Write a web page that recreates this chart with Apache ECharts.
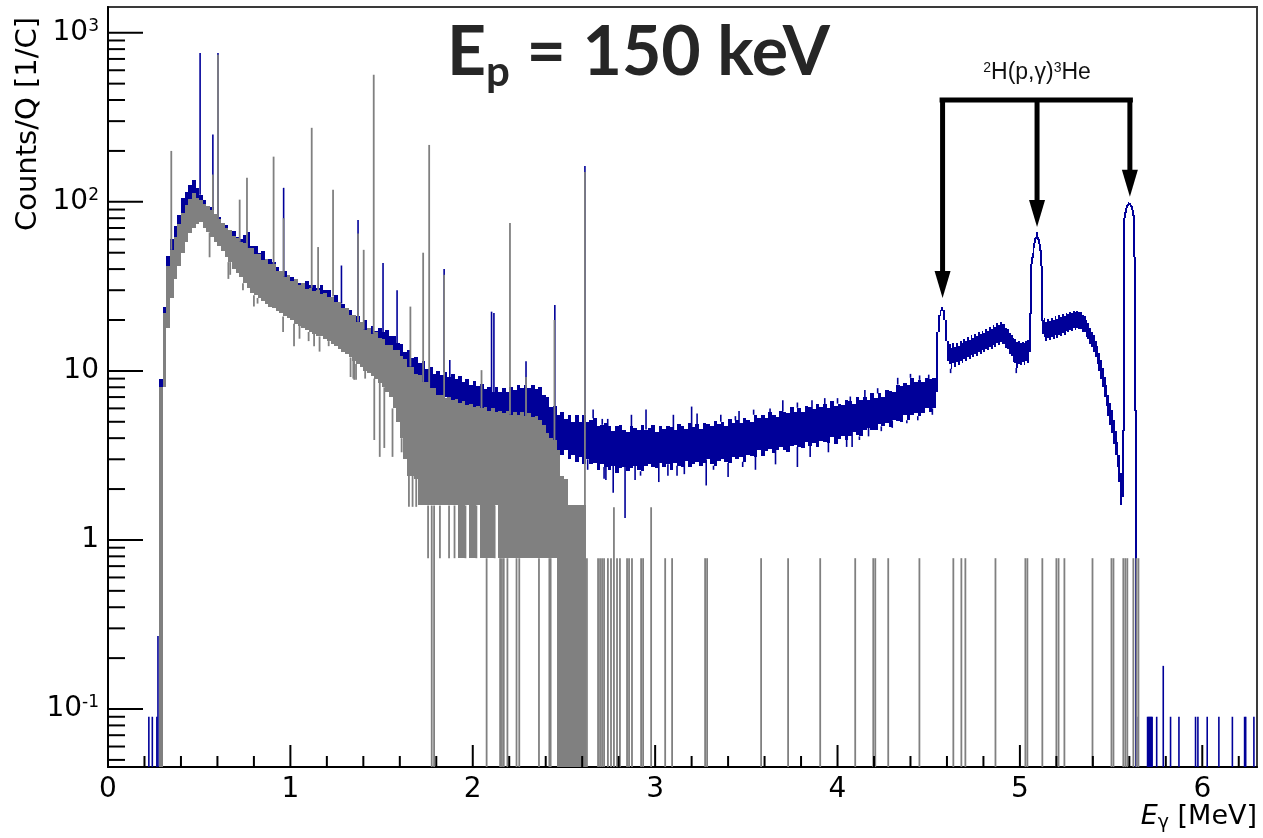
<!DOCTYPE html>
<html><head><meta charset="utf-8">
<script src="https://cdn.jsdelivr.net/npm/echarts@6.0.0/dist/echarts.min.js"></script>
<style>html,body{margin:0;padding:0;background:#fff}#c{width:1263px;height:838px}</style>
</head><body><div id="c"></div>
<script>
// ---------------- data ----------------
// Blue spectrum (beam on), band given as min/max per bin
const blueA_start = 0.28, blueA_w = 0.02;
const blueA_hi = [9,24,48,60,72,84,106,114,126,134, 120,110,102,94,93,84,81,74,73,67, 67,62,60,64,66,55,55,50,51,46, 46,44,41,39,39,35,36,34,33,33,
 34,32,32,31,32,30,30,27.5,28,25, 25,23,23,21,21,19.5,20,18,18.5,17.2, 18,17,17.5,16,16,14.6,14.4,12.9,13.2,11.9, 12.1,11.1,11.5,10.3,10.5,9.6,10,9.5,9.8,9.2,
 9.6,9,9.3,8.6,8.9,8.3,8.7,8.1,8.4,7.8, 8,7.5,8,7.5,7.9,7.5,8,7.7,8.2,7.9, 8.3,7.9,8.3,7.8,8,7.2,7,6.1,6.2,5.5, 5.7,5.2,5.5,5,5.5,5,
 5.5,5.0,5.15,5.25,4.75,4.8,4.95,4.7,4.4,4.7, 4.8,4.5,4.35,4.7,4.6,4.45,4.8,4.5,4.6,4.8, 4.35,4.7,4.55,4.75,4.65,4.45,4.85,4.7,4.55,4.95,
 4.65,4.85,4.55,4.95,4.85,4.7,5.05,4.85,5.0,4.75, 5.2,4.9,5.1,4.9,5.25,5.15,5.0,5.5,5.25,5.45, 5.25,5.7,5.5,5.35,5.8,5.75,5.6,6.1,5.75,6.05,
 5.75,6.2,6.1,5.95,6.4,6.15,6.35,6.0,6.6,6.2, 6.4,6.25,6.7,6.6,6.4,7.0,6.75,7.0,6.7,7.35, 6.9,7.35,7.05,7.7,7.65,7.55,8.3,8.1,8.5,8.2,
 9.1,8.55,8.85,8.55,9.1,8.9,9.1];
const blueA_lo = [0.3,9,22,30,42,50,60,72,80,86, 84,80,74,70,66,62,58,55,52,48, 46,43,40,38,36,34,33,32,31,30, 29,28,27,26,25,24,24,23,22,21,
 21,20,20,19,19,18,18,17,17,16, 16,15,15,14,13,13,12,12,11.5,11, 11,10.5,10,10,10,9.5,9.5,9,9,8.5, 8.5,8.2,8,7.8,7.6,7.4,7.2,7,7,6.8,
 6.7,6.6,6.5,6.3,6.2,6.1,6,6,5.9,5.8, 5.8,5.7,5.6,5.6,5.5,5.5,5.5,5.5,5.4,5.4, 5.3,5.2,5.1,5,4.8,4.5,4,3.7,3.5,3.4, 3.2,3.4,3.0,3.2,2.9,3.1,
 2.8,3.0,2.8,2.85,2.6,2.8,2.7,2.6,2.75,2.5, 2.65,2.7,2.55,2.65,2.75,2.6,2.55,2.75,2.8,2.7, 2.65,2.85,2.7,2.8,2.6,2.85,2.75,2.7,2.95,2.7,
 2.8,2.9,2.75,2.85,3.0,2.8,2.75,2.95,3.0,2.9, 2.85,3.1,3.0,3.1,2.9,3.2,3.15,3.1,3.4,3.15, 3.35,3.45,3.25,3.4,3.55,3.4,3.3,3.6,3.65,3.55,
 3.5,3.8,3.6,3.75,3.55,3.85,3.8,3.75,4.05,3.7, 3.95,4.1,3.9,4.1,4.35,4.15,4.1,4.5,4.6,4.5, 4.45,4.85,4.7,4.9,4.65,5.1,5.05,5.0,5.5,5.1,
 5.45,5.65,5.4,5.65,6.0,5.75,6.0];
const blueB_start = 4.54, blueB_w = 0.01;
const blueB_lo = [7.5,17,21,22.5,20,15,11.5,11,10.3,11.2, 10.6,11.3,10.8,11.5,11.2,11.8,11.4,12.1,11.8,12.4, 12,12.6,12.2,12.9,12.6,13.2,12.9,13.5,13.2,13.8,
 13.4,14.2,13.9,14.6,14.3,14.9,14.4,14.5,13.6,13.4, 12.5,12.3,11.3,11.2,10.4,11,10.8,11.3,10.9,11.4, 11.2,13,43,50,57,62,56,42,16.5,15.8,
 15,15.6,15.2,15.8,15.4,16.2,15.7,16.4,16.1,16.8, 16.4,17.2,16.9,17.5,17.2,17.9,17.5,18,17.6,17.7, 17,16.9,15.8,15.4,14.5,13.9,13,12,11,10,
 9,8,7,6.2,5.4,4.8,4.3,3.7,3.2,2.7, 2.2,1.6,1.8,80,92,97,96,90,47,0];
const blueB_hi = [17,21.5,23,24,23,20,15,14.5,13.6,14.6, 13.8,14.6,14,15,14.6,15.4,15,15.8,15.2,16.2, 15.7,16.5,16,16.9,16.5,17.2,16.8,17.7,17.3,18.2,
 17.8,18.6,18.2,19.2,18.8,19.5,18.9,19,18,17.6, 16.8,16.4,15.7,15.5,14.9,15,14.6,14.9,14.6,15.1, 15.3,22,47,54,61,66,60,52,20,20.6,
 19.4,20.2,19.6,20.6,20,21,20.4,21.3,20.8,21.6, 21.1,21.9,21.6,22.3,21.9,22.6,22.2,22.7,22.2,22.3, 21.4,21.2,19.9,19.2,18,17,16.2,15,14,12.8,
 11.6,10.4,9.2,8.2,7.2,6.5,5.9,5.1,4.4,3.8, 3.2,2.5,4.5,87,96,100,99,95,84,5.9];
// narrow features of the blue spectrum (gamma lines, spikes, dips, isolated bins)
const blueLineE = [0.505,0.575,0.603,0.963,1.28,1.371,1.508,1.585,1.843,1.874,2.103,2.116,2.292,2.45,2.615,
 2.66,2.71,2.74,2.87,2.95,3.10,3.2,3.23,3.36,3.44,3.46,3.54,3.63,3.7,3.78,3.86,3.93,4.0,4.07,4.15,4.22,4.33,4.40,4.45,4.50,
 2.63,2.72,2.73,2.77,2.835,2.89,2.92,3.02,3.07,3.12,3.16,3.28,3.32,3.40,3.48,3.55,3.66,3.78,3.85,3.95,4.05,4.08,4.12,4.17,4.24,4.30,4.38,4.44,4.52,4.62,4.98,
 0.224,0.243,0.268,0.274,5.64,5.70,5.705,5.71,5.715,5.72,5.725,5.75,5.786,5.826,5.872,5.963,5.976,6.027,6.091,6.165,6.232,6.238,6.283];
const blueLineV = [760,250,760,121,42,78,43.5,30,40,11.6,22.4,22,11.4,24.5,163,
 5.9,5.2,5.2,5.5,5.9,5.5,6.15,5.6,5.5,5.4,5.8,5.9,6.0,6.7,6.5,6.7,6.9,6.9,7.05,7.7,7.9,9.1,9.6,9.4,9.5,
 2.6,2.3,2.26,1.9,1.35,2.26,2.4,2.2,2.4,2.4,2.45,2.1,2.6,2.36,2.7,2.6,2.8,2.7,3.1,3.3,3.55,3.55,3.9,4.1,4.4,4.6,4.9,5.1,5.5,9.7,9.7,
 0.09,0.09,0.09,0.27,0.09,0.09,0.09,0.09,0.09,0.09,0.09,0.09,0.18,0.09,0.09,0.09,0.09,0.09,0.09,0.09,0.09,0.09,0.09];

// Gray spectrum (background)
const gray_start = 0.28, gray_w = 0.02;
const gray_hi = [8,22,42,52,62,74,86,96,104,112, 106,102,97,94,89,85,79,75,70,68, 63,61,58,57,53,53,49,49,45,46, 43,43,39,39,36,37,34,35,32,33,
 30.5,31,29.5,30,28.5,29,27.5,27.5,25.5,25.5, 23.5,23.5,21.5,21.5,19.5,19.5,17.5,18,16.6,17, 15.6,15.4,14.2,14.2,13.2,13.3,12.2,11.8,10.6,10.5, 9.6,9.5,8.6,8.6,7.9,7.9,7.2,7.2,6.9,7,
 6.7,6.8,6.5,6.6,6.3,6.4,6.1,6.2,6,6.1, 5.8,6,5.7,5.8,5.6,5.8,5.5,5.7,5.5,5.7, 5.4,5.6,5.3,5.4,5.1,4.8,4.3,4,3.9,3.4, 2.4,2.3,1.6,1.6,1.6,1.6,1.6];
const gray_lo = [0,8,18,27,35,42,50,58,65,70, 74,76,70,66,62,58,55,51,47,44, 40,38,36,33,31,29,28,27,26,25, 24,23.5,22.5,22,21,20.5,20,19,18.5,18,
 17.5,17,16.5,16,16,15.5,15,14.5,14,13.5, 13,12.5,12,11.5,11,10.5,10,9.7,9.3,9, 8.5,8,7.5,7,6,5,4,3,2.4,2.4, 2.3,1.6,1.6,1.6,1.6,1.6,1.6,1.6,1.6,1.6,
 1.6,1.6,0.78,0.78,1.6,0.78,0.78,1.6,0.78,0.78, 0.78,0.78,1.6,0.78,0.78,0.78,0.78,0.78,0.78,0.78, 0.78,0.78,0.78,0.78,0.78,0.78,0.78,0.78,0.78,0, 0,0,0,0,0,0,0];
const grayLineE = [0.347,0.575,0.603,0.722,0.762,0.908,0.963,1.117,1.152,1.234,1.371,1.402,1.457,1.658,1.728,1.761,1.843,2.048,2.204,2.292,2.448,2.615,
 0.557,0.66,0.67,0.74,0.80,0.82,0.96,1.02,1.05,1.10,1.13,1.16,1.21,1.33,1.345,1.35,1.36,1.41,1.46,1.49,1.515,1.56,1.61,1.65,1.67,1.69,1.755,1.775,1.788,1.82,1.87,1.90,1.96,2.02,2.076,2.12,2.15,2.16,2.17,2.19,2.24,2.255,2.363,2.42,2.427,
 2.626,2.687,2.698,2.709,2.72,2.741,2.758,2.774,2.791,2.807,2.846,2.857,2.873,2.923,2.934,2.978,3.055,3.093,3.274,3.285,3.581,3.729,3.905,4.097,4.196,4.207,4.278,4.449,4.635,4.679,4.701,4.866,5.03,5.041,5.123,5.2,5.212,5.244,5.398,5.502,5.513,5.567,5.578,5.589,5.622,5.639,5.65];
const grayLineV = [200,145,740,103,139,185,80,274,54,118,65,52,564,24,50,217,37,10.1,75,9.2,20,150,
 47,35,37,30,24,25,17,14,15.5,15,14,13,14,9.2,9,8.85,8.85,9,3.9,3.1,3.5,3.1,3.3,1.57,1.57,1.57,0.78,0,0,0.78,0.78,0.78,0.78,0.78,0,0.78,0,0,0,0,0,0,0,0,0,
 0.78,0.78,0.78,0.78,0.78,0.78,0.78,1.56,0.78,0.78,0.78,0.78,0.78,0.78,0.78,1.56,0.78,0.78,0.78,0.78,0.78,0.78,0.78,0.78,0.78,0.78,0.78,0.78,0.78,0.78,0.78,0.78,0.78,0.78,0.78,0.78,0.78,0.78,0.78,0.78,0.78,0.78,0.78,0.78,0.78,0.78,0.78];

// annotation: 2H(p,g)3He lines
const arrowE = [4.576, 5.094, 5.603];
const arrowTip = [27, 71, 107];
const bracketLevel = 400;
const reactionLabel = '{s|2}H(p,\u03b3){s|3}He';

// axes
const xRange = [0, 6.3];
const yRange = [0.0454, 1420];
const xMajor = [0,1,2,3,4,5,6];
const xMinor = [0.2,0.4,0.6,0.8,1.2,1.4,1.6,1.8,2.2,2.4,2.6,2.8,3.2,3.4,3.6,3.8,4.2,4.4,4.6,4.8,5.2,5.4,5.6,5.8,6.2];
const yMajor = [0.1,1,10,100,1000];
const yMinor = [0.05,0.06,0.07,0.08,0.09,0.2,0.3,0.4,0.5,0.6,0.7,0.8,0.9,2,3,4,5,6,7,8,9,20,30,40,50,60,70,80,90,200,300,400,500,600,700,800,900];

// ---------------- rendering ----------------
const BLUE = '#000099', GRAY = '#808080';
function yPix(api, params, v) {
  const cs = params.coordSys, top = cs.y, bottom = cs.y + cs.height;
  if (!(v > 0)) return bottom;
  const p = api.coord([1, v])[1];
  return Math.max(top, Math.min(bottom, p));
}
function xPix(api, e) { return api.coord([e, 1])[0]; }

function bandSeries(start, w, lo, hi, color, z) {
  return {
    type: 'custom', z: z, silent: true, animation: false,
    encode: { x: 0, y: 2 },
    data: lo.map((l, i) => [start + i * w, l, hi[i]]),
    renderItem(params, api) {
      const i = params.dataIndex;
      const x0 = Math.round(xPix(api, start + i * w)), x1 = Math.round(xPix(api, start + (i + 1) * w));
      const yl = Math.round(yPix(api, params, lo[i])), yh = Math.round(yPix(api, params, hi[i]));
      const ch = [{ type: 'rect', shape: { x: x0, y: yh, width: Math.max(1, x1 - x0), height: Math.max(2, yl - yh) }, style: { fill: color } }];
      if (i > 0) {
        const pl = Math.round(yPix(api, params, lo[i - 1])), ph = Math.round(yPix(api, params, hi[i - 1]));
        let a = null, b = null;
        if (pl < yh) { a = pl; b = yh; } else if (yl < ph) { a = yl; b = ph; }
        if (a !== null) ch.push({ type: 'rect', shape: { x: x0 - 1, y: a, width: 2, height: b - a + 1 }, style: { fill: color } });
      }
      return { type: 'group', children: ch };
    }
  };
}
function lineSeries(E, V, bands, color, width, z) {
  return {
    type: 'custom', z: z, silent: true, animation: false,
    encode: { x: 0, y: 1 },
    data: E.map((e, k) => [e, V[k]]),
    renderItem(params, api) {
      const k = params.dataIndex, e = E[k], v = V[k];
      let base = 0, found = false;
      for (const b of bands) {
        const idx = Math.floor((e - b.start) / b.w + 1e-9);
        if (idx >= 0 && idx < b.lo.length) {
          found = true;
          if (v > b.hi[idx]) base = b.hi[idx];
          else if (v < b.lo[idx]) base = b.lo[idx];
          else return null;
          break;
        }
      }
      const x = xPix(api, e);
      const ya = yPix(api, params, found ? base : 0), yb = yPix(api, params, v);
      const t = Math.min(ya, yb), h = Math.abs(ya - yb);
      return { type: 'rect', shape: { x: x - width / 2, y: t, width: width, height: h }, style: { fill: color } };
    }
  };
}
const blueBands = [{ start: blueA_start, w: blueA_w, lo: blueA_lo, hi: blueA_hi }, { start: blueB_start, w: blueB_w, lo: blueB_lo, hi: blueB_hi }];
const grayBands = [{ start: gray_start, w: gray_w, lo: gray_lo, hi: gray_hi }];

const annotationSeries = {
  type: 'custom', z: 20, silent: true, animation: false,
  encode: { x: 0, y: 1 },
  data: [[arrowE[1], bracketLevel]],
  renderItem(params, api) {
    const yb = yPix(api, params, bracketLevel);
    const xs = arrowE.map(e => xPix(api, e));
    const ch = [{ type: 'rect', shape: { x: xs[0] - 3, y: yb - 2.5, width: xs[2] - xs[0] + 6, height: 5 }, style: { fill: '#000' } }];
    xs.forEach((x, k) => {
      const yt = yPix(api, params, arrowTip[k]);
      ch.push({ type: 'rect', shape: { x: x - 2.5, y: yb, width: 5, height: yt - 25 - yb }, style: { fill: '#000' } });
      ch.push({ type: 'polygon', shape: { points: [[x - 8, yt - 27], [x + 8, yt - 27], [x, yt]] }, style: { fill: '#000' } });
    });
    ch.push({ type: 'text', x: xs[1], y: yb - 27, style: {
      text: reactionLabel, align: 'center', verticalAlign: 'middle',
      fontFamily: 'Liberation Sans', fontSize: 23, fill: '#111',
      rich: { s: { fontFamily: 'Liberation Sans', fontSize: 14, lineHeight: 12, verticalAlign: 'top', fill: '#111' } }
    } });
    return { type: 'group', children: ch };
  }
};
function tickSeries(vals, isX, len) {
  return {
    type: 'custom', z: 30, silent: true, animation: false,
    encode: { x: 0, y: 1 },
    data: vals.map(v => isX ? [v, 1] : [1, v]),
    renderItem(params, api) {
      const cs = params.coordSys, v = vals[params.dataIndex];
      if (isX) {
        const x = xPix(api, v);
        return { type: 'rect', shape: { x: x - 1, y: cs.y + cs.height - len, width: 2, height: len }, style: { fill: '#000' } };
      }
      const y = yPix(api, params, v);
      return { type: 'rect', shape: { x: cs.x, y: y - 1, width: len, height: 2 }, style: { fill: '#000' } };
    }
  };
}

const chart = echarts.init(document.getElementById('c'));
chart.setOption({
  animation: false,
  backgroundColor: '#fff',
  grid: { left: 108, right: 6, top: 7, bottom: 71, show: true, borderColor: '#3a3a3a', borderWidth: 2 },
  xAxis: {
    type: 'value', min: xRange[0], max: xRange[1], interval: 1,
    axisLine: { onZero: false, lineStyle: { color: '#000', width: 2 } },
    axisTick: { show: false }, splitLine: { show: false },
    axisLabel: { margin: 9, fontFamily: 'DejaVu Sans', fontSize: 28, lineHeight: 28, color: '#000',
      formatter: v => Math.abs(v - Math.round(v)) < 1e-6 ? String(Math.round(v)) : '' }
  },
  yAxis: {
    type: 'log', logBase: 10, min: yRange[0], max: yRange[1],
    axisLine: { show: true, onZero: false, lineStyle: { color: '#000', width: 2 } },
    axisTick: { show: false }, splitLine: { show: false },
    axisLabel: { margin: 9, fontFamily: 'DejaVu Sans', fontSize: 28, lineHeight: 30, color: '#000',
      formatter: v => { const L = Math.log10(v), e = Math.round(L); if (Math.abs(L - e) > 1e-6) return ''; if (e === 0) return '1'; if (e === 1) return '10'; return '10{sup|' + e + '}'; },
      rich: { sup: { fontFamily: 'DejaVu Sans', fontSize: 17, lineHeight: 17, verticalAlign: 'top', color: '#000' } } }
  },
  graphic: [
    { type: 'text', x: 447, y: 53, z: 100, style: {
      text: '{a|E}{s|p}{a| = 150 keV}', align: 'left', verticalAlign: 'middle',
      rich: { a: { fontFamily: 'Lato', fontWeight: 'bold', fontSize: 68, lineHeight: 80, fill: '#262626' },
              s: { fontFamily: 'Lato', fontWeight: 'bold', fontSize: 42, lineHeight: 39, verticalAlign: 'bottom', fill: '#262626' } } } },
    { type: 'text', x: 28, y: 124, rotation: Math.PI / 2, z: 100, style: {
      text: 'Counts/Q [1/C]', fontFamily: 'DejaVu Sans', fontSize: 29, fill: '#000', align: 'center', verticalAlign: 'middle' } },
    { type: 'text', x: 1257, y: 817, z: 100, style: {
      text: '{i|E}{g|\u03b3}{r| [MeV]}', align: 'right', verticalAlign: 'middle',
      rich: { i: { fontFamily: 'DejaVu Sans', fontStyle: 'italic', fontSize: 27, lineHeight: 32, fill: '#000' },
              g: { fontFamily: 'DejaVu Sans', fontSize: 19, lineHeight: 21, verticalAlign: 'bottom', fill: '#000' },
              r: { fontFamily: 'DejaVu Sans', fontSize: 27, lineHeight: 32, fill: '#000' } } } }
  ],
  series: [
    bandSeries(blueA_start, blueA_w, blueA_lo, blueA_hi, BLUE, 2),
    bandSeries(blueB_start, blueB_w, blueB_lo, blueB_hi, BLUE, 2),
    lineSeries(blueLineE, blueLineV, blueBands, BLUE, 1.6, 3),
    bandSeries(gray_start, gray_w, gray_lo, gray_hi, GRAY, 4),
    lineSeries(grayLineE, grayLineV, grayBands, GRAY, 1.8, 5),
    annotationSeries,
    tickSeries(xMajor, true, 22),
    tickSeries(xMinor, true, 11),
    tickSeries(yMajor, false, 35),
    tickSeries(yMinor, false, 17)
  ]
});
</script></body></html>
